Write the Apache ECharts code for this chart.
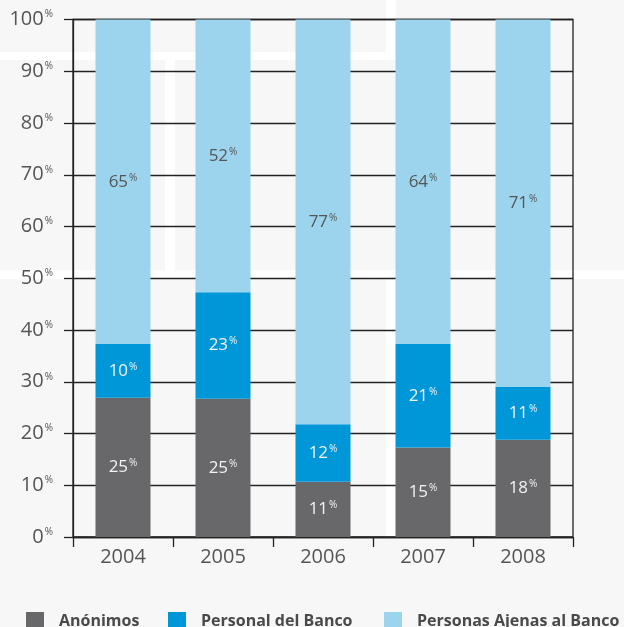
<!DOCTYPE html>
<html>
<head>
<meta charset="utf-8">
<script src="https://cdn.jsdelivr.net/npm/echarts@6/dist/echarts.min.js"></script>
<style>
html,body{margin:0;padding:0;background:#f7f7f7;}
#chart{width:624px;height:627px;}
</style>
</head>
<body>
<div id="chart"></div>
<script>
// Categories
var years = ['2004', '2005', '2006', '2007', '2008'];
// Segment heights as drawn (percent of bar)
var anonimos = [26.9, 26.7, 10.7, 17.3, 18.8];
var personal = [10.4, 20.6, 11.1, 20.0, 10.2];
var ajenas   = [62.7, 52.7, 78.2, 62.7, 71.0];
// Printed labels
var anonimosLbl = [25, 25, 11, 15, 18];
var personalLbl = [10, 23, 12, 21, 11];
var ajenasLbl   = [65, 52, 77, 64, 71];
var seriesNames = ['Anónimos', 'Personal del Banco', 'Personas Ajenas al Banco'];
var yTicks = [0, 10, 20, 30, 40, 50, 60, 70, 80, 90, 100];

var FONT = 'Open Sans';

function barLabel(lbls, color) {
  return {
    show: true,
    position: 'inside',
    formatter: function (p) { return '{n|' + lbls[p.dataIndex] + '}{p|%}'; },
    rich: {
      n: { fontFamily: FONT, fontSize: 17, color: color, lineHeight: 18 },
      p: { fontFamily: FONT, fontSize: 10, color: color, verticalAlign: 'top', lineHeight: 10, padding: [0, 0, 6, 1] }
    }
  };
}

// faint background watermark bands
function band(x, y, w, h) {
  return { type: 'rect', z: -10, silent: true, shape: { x: x, y: y, width: w, height: h }, style: { fill: '#ffffff' } };
}

function legendFor(name, left) {
  return {
    data: [name],
    left: left,
    top: 607,
    icon: 'rect',
    itemWidth: 18,
    itemHeight: 18,
    textStyle: { fontFamily: FONT, fontWeight: 'bold', fontSize: 16, color: '#4a4a4a', padding: [0, 0, 0, 10] }
  };
}

var chart = echarts.init(document.getElementById('chart'), null, { renderer: 'canvas' });
chart.setOption({
  backgroundColor: '#f7f7f7',
  animation: false,
  graphic: [
    band(0, 52, 386, 8),
    band(386, 0, 10, 60),
    band(165, 60, 10, 210),
    band(0, 270, 624, 9),
    band(386, 279, 10, 258)
  ],
  grid: { left: 73, right: 51, top: 19.5, bottom: 90, show: true, borderColor: '#222', borderWidth: 1.3, backgroundColor: 'transparent' },
  legend: [
    legendFor(seriesNames[0], 21),
    legendFor(seriesNames[1], 163),
    legendFor(seriesNames[2], 379)
  ],
  xAxis: {
    type: 'category',
    data: years,
    axisLine: { lineStyle: { color: '#222', width: 1.3 } },
    axisTick: { show: true, length: 10, lineStyle: { color: '#222', width: 1.3 } },
    axisLabel: { fontFamily: FONT, fontSize: 20, color: '#555', margin: 10 }
  },
  yAxis: {
    type: 'value',
    min: yTicks[0],
    max: yTicks[yTicks.length - 1],
    interval: 10,
    axisLine: { show: true, lineStyle: { color: '#222', width: 1.3 } },
    axisTick: { show: true, length: 9, lineStyle: { color: '#222', width: 1.3 } },
    splitLine: { lineStyle: { color: '#222', width: 1.3 } },
    axisLabel: {
      margin: 20,
      formatter: function (v) { return '{n|' + v + '}{p|%}'; },
      rich: {
        n: { fontFamily: FONT, fontSize: 20, color: '#555', lineHeight: 20 },
        p: { fontFamily: FONT, fontSize: 10, color: '#555', verticalAlign: 'top', lineHeight: 10, padding: [0, 0, 8, 1] }
      }
    }
  },
  series: [
    { name: seriesNames[0], type: 'bar', stack: 'a', barWidth: 55, data: anonimos, itemStyle: { color: '#68686a' }, label: barLabel(anonimosLbl, '#f2f2f2') },
    { name: seriesNames[1], type: 'bar', stack: 'a', barWidth: 55, data: personal, itemStyle: { color: '#0097d8' }, label: barLabel(personalLbl, '#f2f2f2') },
    { name: seriesNames[2], type: 'bar', stack: 'a', barWidth: 55, data: ajenas, itemStyle: { color: '#9cd4ee' }, label: barLabel(ajenasLbl, '#555555') }
  ]
});
</script>
</body>
</html>
